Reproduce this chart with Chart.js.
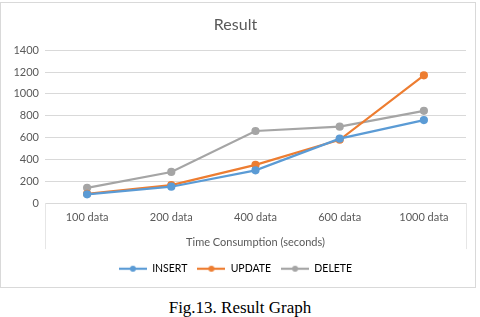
<!DOCTYPE html>
<html>
<head>
<meta charset="utf-8">
<script src="https://cdn.jsdelivr.net/npm/chart.js@4/dist/chart.umd.min.js"></script>
<style>
  html, body { margin: 0; padding: 0; background: #fff; width: 480px; height: 317px; overflow: hidden; }
  #box { position: absolute; left: 0; top: 2px; width: 474px; height: 284px; border: 1px solid #d9d9d9; }
  #box canvas { display: block; }
  #cap { position: absolute; left: 0; top: 298px; width: 480px; text-align: center;
         font-family: "Liberation Serif", "Times New Roman", serif; font-size: 17px; color: #000; }
</style>
</head>
<body>
<div id="box"><canvas id="c" width="474" height="284"></canvas></div>
<div id="cap">Fig.13. Result Graph</div>
<script>
const categories = ["100 data", "200 data", "400 data", "600 data", "1000 data"];
const insertValues = [80, 150, 300, 590, 760];
const updateValues = [85, 165, 350, 580, 1170];
const deleteValues = [140, 285, 660, 700, 845];
const seriesNames = ["INSERT", "UPDATE", "DELETE"];
const seriesColors = ["#5B9BD5", "#ED7D31", "#A5A5A5"];
const titleText = "Result";
const xAxisTitle = "Time Consumption (seconds)";
const captionText = "Fig.13. Result Graph";

document.getElementById('cap').textContent = captionText;

function legendIcon(color) {
  const cv = document.createElement('canvas');
  cv.width = 28; cv.height = 8;
  const g = cv.getContext('2d');
  g.strokeStyle = color; g.lineWidth = 2.2;
  g.beginPath(); g.moveTo(0, 4); g.lineTo(28, 4); g.stroke();
  g.fillStyle = color;
  g.beginPath(); g.arc(14, 4, 3, 0, Math.PI * 2); g.fill();
  return cv;
}

const seriesData = [insertValues, updateValues, deleteValues];
const datasets = seriesNames.map((n, i) => ({
  label: n,
  data: seriesData[i],
  borderColor: seriesColors[i],
  backgroundColor: seriesColors[i],
  borderWidth: 2.2,
  pointRadius: 3,
  pointHoverRadius: 3,
  pointBackgroundColor: seriesColors[i],
  pointBorderColor: seriesColors[i],
  tension: 0
}));

const sideLines = {
  id: 'sideLines',
  afterDraw(chart) {
    const { ctx, chartArea } = chart;
    ctx.save();
    ctx.strokeStyle = '#e6e6e6';
    ctx.lineWidth = 1;
    [chartArea.left, chartArea.right].forEach(x => {
      ctx.beginPath();
      ctx.moveTo(Math.round(x) + 0.5, chartArea.bottom);
      ctx.lineTo(Math.round(x) + 0.5, chartArea.bottom + 46);
      ctx.stroke();
    });
    ctx.restore();
  }
};

const font = "Lato, 'Open Sans', sans-serif";
new Chart(document.getElementById('c'), {
  type: 'line',
  data: { labels: categories, datasets },
  plugins: [sideLines],
  options: {
    responsive: false,
    animation: false,
    layout: { padding: { left: 4, right: 9, top: 6, bottom: 3 } },
    plugins: {
      title: { display: true, text: titleText, color: '#595959',
               font: { family: font, size: 16, weight: 'normal' }, padding: { top: 6, bottom: 16 } },
      legend: {
        position: 'bottom',
        labels: {
          color: '#595959', font: { family: font, size: 10.5 },
          usePointStyle: true, pointStyleWidth: 28, boxHeight: 8, padding: 10,
          generateLabels(chart) {
            return chart.data.datasets.map((d, i) => ({
              text: d.label, fillStyle: d.borderColor, strokeStyle: d.borderColor,
              pointStyle: legendIcon(d.borderColor), datasetIndex: i, lineWidth: 0, hidden: false
            }));
          }
        }
      },
      tooltip: { enabled: false }
    },
    scales: {
      x: {
        offset: true,
        grid: { display: false, drawTicks: false },
        border: { display: true, color: '#d9d9d9' },
        ticks: { color: '#595959', font: { family: font, size: 11 }, padding: 8 },
        title: { display: true, text: xAxisTitle, color: '#595959', font: { family: font, size: 11 }, padding: { top: 4, bottom: 4 } }
      },
      y: {
        min: 0, max: 1400,
        ticks: { stepSize: 200, color: '#595959', font: { family: font, size: 11 }, padding: 6,
                 callback: v => String(v) },
        grid: { color: '#d9d9d9', drawTicks: false },
        border: { display: false },
        afterFit(s) { s.width = 40; }
      }
    }
  }
});
</script>
</body>
</html>
